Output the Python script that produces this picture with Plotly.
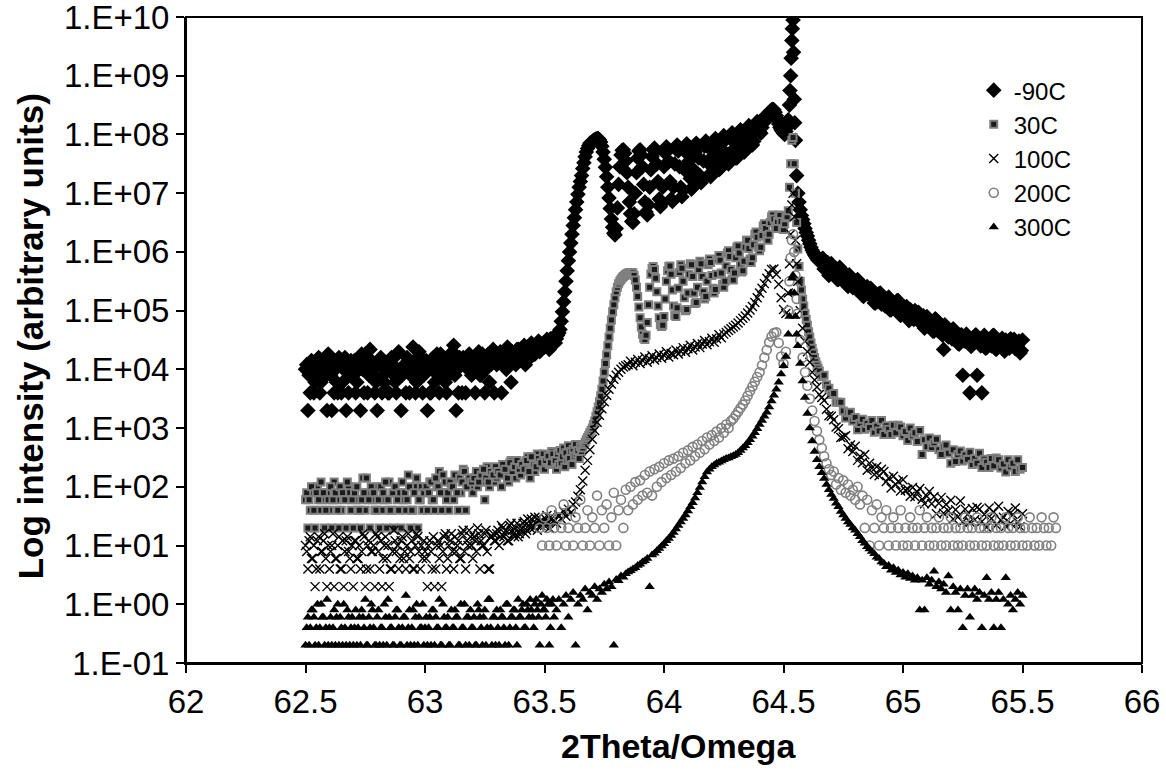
import numpy as np
import plotly.graph_objects as go

# ---------------- data (log10 of intensity) ----------------
series_names = ["-90C", "30C", "100C", "200C", "300C"]

x_tick_vals = [62, 62.5, 63, 63.5, 64, 64.5, 65, 65.5, 66]
x_tick_text = ["62", "62.5", "63", "63.5", "64", "64.5", "65", "65.5", "66"]
y_tick_vals = [1e-1, 1e0, 1e1, 1e2, 1e3, 1e4, 1e5, 1e6, 1e7, 1e8, 1e9, 1e10]
y_tick_text = ["1.E-01", "1.E+00", "1.E+01", "1.E+02", "1.E+03", "1.E+04",
               "1.E+05", "1.E+06", "1.E+07", "1.E+08", "1.E+09", "1.E+10"]

# -90C : 62.50 & 62.505 step 0.01 | 63.545 step 0.005 | 64.66 & 64.665 step 0.01
m90_a = [4.00,3.30,3.60,4.08,3.78,4.00,3.60,3.90,4.15,3.30,
         4.08,3.30,3.60,3.78,4.20,3.60,4.00,3.30,3.60,4.15,
         3.90,3.60,4.08,3.30,4.00,4.26,3.60,4.34,3.90,3.60,
         3.30,4.15,3.60,3.78,4.08,3.60,4.20,3.90,3.60,4.30,
         3.30,4.00,3.60,4.15,3.90,4.38,3.60,4.00,4.20,3.60,
         4.08,3.30,3.60,4.00,3.78,4.26,3.60,4.15,4.00,3.60,
         3.90,4.15,4.41,3.30,3.60,4.08,4.20,3.60,4.00,4.08,
         4.00,3.60,4.15,3.90,4.26,3.60,4.08,3.78,4.20,3.60,
         4.08,4.26,3.60,4.15,4.00,4.30,3.78,4.20,4.08,4.34,
         4.15,4.30,4.08,4.38,4.20,4.34,4.26,4.45,4.30,4.41,
         4.38,4.51,4.34,4.45,4.56]
m90_a2 = [4.08,3.90,4.15,3.60,4.00,4.20,3.78,4.08,3.90,4.26,
          3.90,4.15,4.00,3.60,4.08,3.78,4.20,4.00,3.90,4.08,
          4.15,3.78,4.00,4.26,3.60,4.08,3.90,4.15,4.00,3.78,
          4.08,4.20,3.90,4.00,3.60,4.15,4.08,3.78,4.26,4.00,
          3.90,4.08,4.20,3.60,4.00,4.15,3.78,4.30,4.08,3.90,
          4.15,4.00,3.60,4.20,4.08,3.90,4.26,4.00,3.78,4.15,
          4.08,4.30,3.90,4.00,4.20,3.60,4.15,4.08,4.26,3.90,
          4.20,4.08,4.30,3.90,4.15,4.00,4.26,4.08,4.34,4.15,
          4.20,4.30,4.08,4.26,4.38,4.15,4.30,4.20,4.34,4.26,
          4.30,4.41,4.20,4.34,4.45,4.26,4.38,4.48,4.34,4.45,
          4.41,4.48,4.52,4.50]
m90_b = [4.45,4.52,4.58,4.62,4.68,4.82,4.98,5.15,5.32,5.50,
         5.68,5.85,6.00,6.15,6.30,6.45,6.58,6.72,6.85,6.98,
         7.10,7.20,7.30,7.42,7.52,7.62,7.70,7.76,7.81,7.85,
         7.86,7.88,7.90,7.91,7.92,7.93,7.93,7.91,7.87,7.80,
         7.70,7.58,7.44,7.28,7.10,6.92,6.74,6.56,6.42,6.32,
         6.29,6.40,6.75,7.15,7.45,7.65,7.73,7.74,7.68,7.55,
         7.35,7.10,6.85,6.65,6.52,6.50,6.65,7.00,7.35,7.60,
         7.72,7.74,7.65,7.45,7.15,6.85,6.68,6.63,6.80,7.10,
         7.40,7.62,7.74,7.77,7.72,7.50,7.20,6.90,6.77,6.82,
         7.10,7.45,7.68,7.79,7.75,7.55,7.20,6.90,6.86,7.10,
         7.50,7.75,7.82,7.72,7.45,7.10,6.94,7.05,7.40,7.70,
         7.84,7.78,7.55,7.25,7.07,7.10,7.40,7.70,7.85,7.82,
         7.60,7.30,7.18,7.25,7.55,7.80,7.89,7.80,7.55,7.32,
         7.28,7.45,7.72,7.90,7.93,7.80,7.55,7.40,7.42,7.65,
         7.88,7.98,7.90,7.68,7.52,7.50,7.68,7.92,8.03,7.95,
         7.75,7.60,7.60,7.80,8.00,8.08,8.00,7.82,7.70,7.72,
         7.92,8.10,8.15,8.05,7.90,7.82,7.88,8.05,8.18,8.22,
         8.15,8.05,8.02,8.12,8.25,8.30,8.28,8.25,8.30,8.36,
         8.40,8.42,8.43,8.42,8.38,8.32,8.25,8.18,8.12,8.08,
         8.05,8.02,8.00,8.05,8.12,8.25,8.50,9.00,9.60,9.95,
         8.60,7.90,7.30,7.00,6.85,6.72,6.62,6.55,6.48,6.40,
         6.33,6.27,6.20,6.14,6.08,6.03,5.99,5.95,5.92,5.89,
         5.86,5.84]
m90_c = [5.88,5.71,5.77,5.60,5.80,5.65,5.69,5.53,5.71,5.52,
         5.54,5.41,5.56,5.39,5.47,5.53,5.34,5.26,5.38,5.41,
         5.27,5.33,5.13,5.23,5.29,5.11,5.20,5.12,5.23,5.01,
         5.10,5.01,5.17,4.92,5.05,4.98,4.88,5.02,4.88,5.00,
         4.96,4.80,4.86,4.70,4.90,4.76,4.81,4.65,4.84,4.66,
         4.68,4.34,4.71,4.55,4.63,4.69,4.52,4.44,4.58,3.90,
         4.48,4.56,3.60,4.50,4.57,3.90,4.51,3.60,4.58,4.37,
         4.48,4.40,4.58,4.34,4.49,4.43,4.35,4.50,4.38,4.52,
         4.49,4.35,4.42,4.28,4.50]
m90_c2 = [5.89,5.72,5.82,5.63,5.69,5.71,5.53,5.74,5.53,5.57,
          5.44,5.61,5.46,5.49,5.36,5.50,5.39,5.24,5.39,5.28,
          5.38,5.30,5.13,5.16,5.30,5.20,5.08,5.20,5.01,5.09,
          5.03,5.17,4.94,5.06,4.97,5.07,4.83,4.95,4.85,4.97,
          4.97,4.81,4.91,4.73,4.79,4.82,4.65,4.86,4.66,4.71,
          4.58,4.76,4.61,4.65,4.52,4.66,4.57,4.43,4.59,4.49,
          4.60,4.54,4.39,4.44,4.59,4.50,4.40,4.54,4.36,4.46,
          4.42,4.57,4.36,4.49,4.42,4.53,4.31,4.44,4.36,4.50,
          4.51,4.37,4.48,4.32]
m90_peak_x = [64.527, 64.532, 64.537, 64.542, 64.547]
m90_peak = [8.75, 9.30, 9.80, 9.40, 8.20]

# 30C : 62.50 & 62.505 step 0.01 | 63.545 step 0.005 | 64.66 step 0.01
c30_a = [1.78,1.30,1.60,1.90,1.30,2.00,1.60,1.78,1.30,1.90,
         1.60,1.30,2.08,1.78,1.30,1.60,1.90,1.30,2.00,1.60,
         1.30,1.78,1.60,1.30,2.15,1.60,1.90,1.30,1.78,1.60,
         2.00,1.30,1.60,1.78,1.30,2.08,1.60,1.30,1.90,1.60,
         1.30,1.78,1.60,2.20,1.30,1.60,2.00,1.30,1.78,1.60,
         1.90,1.60,2.08,1.78,1.60,2.00,2.26,1.60,1.90,1.78,
         1.60,2.00,1.78,2.15,1.60,1.90,2.30,1.60,2.08,2.00,
         1.90,2.15,2.00,2.26,2.08,1.78,2.34,2.00,2.20,2.08,
         2.15,2.30,2.00,2.38,2.20,2.08,2.45,2.26,2.15,2.34,
         2.20,2.41,2.30,2.51,2.15,2.38,2.26,2.56,2.34,2.45,
         2.30,2.48,2.38,2.60,2.41]
c30_a2 = [1.90,1.78,2.00,1.60,1.90,1.78,2.08,1.90,1.60,1.78,
          2.00,1.78,1.90,1.60,2.00,1.90,1.78,2.08,1.90,1.78,
          1.90,2.00,1.60,1.78,1.90,2.15,1.78,2.00,1.90,1.60,
          1.78,2.00,1.90,2.08,1.78,1.60,1.90,2.00,1.78,1.90,
          2.08,1.90,1.78,2.00,1.60,1.90,2.15,1.78,2.00,1.90,
          2.00,1.90,2.08,1.78,2.15,2.00,1.90,2.20,2.08,1.90,
          2.08,2.00,2.20,1.90,2.15,2.08,2.26,2.00,2.15,2.08,
          2.15,2.26,2.08,2.20,2.30,2.15,2.08,2.26,2.20,2.34,
          2.26,2.20,2.38,2.30,2.15,2.41,2.26,2.34,2.45,2.30,
          2.38,2.30,2.45,2.26,2.51,2.38,2.34,2.48,2.41,2.56,
          2.45,2.52,2.41,2.56]
c30_b = [2.45,2.30,2.56,2.38,2.62,2.41,2.51,2.66,2.34,2.58,
         2.45,2.70,2.48,2.60,2.38,2.64,2.52,2.72,2.56,2.62,
         2.48,2.68,2.60,2.66,2.72,2.76,2.80,2.84,2.88,2.92,
         2.96,3.00,3.06,3.12,3.20,3.28,3.36,3.45,3.55,3.66,
         3.80,3.95,4.10,4.25,4.40,4.55,4.70,4.84,4.98,5.10,
         5.22,5.32,5.40,5.46,5.50,5.53,5.56,5.58,5.60,5.62,
         5.63,5.64,5.65,5.65,5.65,5.64,5.60,5.52,5.40,5.24,
         5.06,4.88,4.72,4.60,4.53,4.51,4.58,4.80,5.10,5.40,
         5.62,5.72,5.75,5.70,5.55,5.32,5.08,4.88,4.76,4.73,
         4.75,4.90,5.20,5.50,5.68,5.75,5.76,5.62,5.35,5.08,
         4.92,4.90,5.05,5.38,5.65,5.78,5.72,5.50,5.22,5.00,
         5.02,5.30,5.62,5.80,5.78,5.58,5.30,5.12,5.14,5.40,
         5.70,5.84,5.80,5.58,5.32,5.20,5.24,5.50,5.78,5.88,
         5.82,5.60,5.38,5.30,5.36,5.62,5.88,5.94,5.86,5.64,
         5.45,5.40,5.50,5.76,5.98,6.02,5.92,5.70,5.54,5.52,
         5.64,5.90,6.08,6.10,5.98,5.78,5.66,5.68,5.84,6.08,
         6.20,6.20,6.06,5.88,5.82,5.90,6.12,6.30,6.34,6.25,
         6.08,6.02,6.08,6.28,6.44,6.48,6.40,6.25,6.20,6.30,
         6.50,6.60,6.63,6.56,6.42,6.40,6.52,6.63,6.62,6.52,
         6.40,6.38,6.48,6.58,6.60,6.70,7.10,7.50,7.90,7.95,
         7.50,7.00,6.50,6.05,5.75,5.50,5.35,5.20,5.08,4.95,
         4.85,4.75,4.64,4.55,4.45,4.36,4.28,4.20,4.13,4.07,
         4.02,3.97]
c30_c = [3.88,3.90,3.74,3.68,3.57,3.59,3.44,3.44,3.44,3.29,
         3.17,3.26,3.27,3.12,3.18,2.97,3.08,3.15,2.98,3.08,
         3.01,3.13,2.93,3.03,2.95,3.13,2.89,3.04,2.98,2.89,
         3.05,2.92,3.05,3.02,2.87,2.94,2.79,3.00,2.87,2.92,
         2.77,2.96,2.55,2.80,2.68,2.83,2.67,2.75,2.81,2.63,
         2.55,2.68,2.71,2.57,2.40,2.63,2.43,2.55,2.61,2.44,
         2.54,2.47,2.59,2.38,2.48,2.40,2.57,2.33,2.47,2.42,
         2.33,2.48,2.36,2.49,2.46,2.32,2.39,2.25,2.46,2.34,
         2.40,2.26,2.46,2.30,2.33]

# 100C : 62.50 & 62.505 step 0.01 | 63.55 step 0.01
c100_a = [1.00,0.60,1.15,0.78,0.30,1.08,0.60,0.90,1.20,0.30,
          0.60,1.00,0.30,0.78,1.15,0.60,0.30,1.08,0.90,0.60,
          0.30,1.08,0.78,0.60,1.20,0.30,1.00,0.60,0.90,0.30,
          1.15,0.60,0.30,1.00,0.78,0.30,0.60,1.26,0.90,0.60,
          1.08,0.78,0.60,1.20,0.90,0.60,1.00,1.15,0.60,0.78,
          0.90,0.30,1.08,0.60,0.30,1.00,0.78,0.30,1.15,0.60,
          1.00,1.20,0.60,0.90,1.08,0.78,1.26,0.60,1.00,1.15,
          0.78,1.08,1.30,0.60,1.00,1.20,0.90,0.60,1.15,1.08,
          1.20,1.00,1.34,1.15,1.26,1.08,1.38,1.20,1.30,1.15,
          1.26,1.38,1.20,1.45,1.30,1.34,1.48,1.26,1.41,1.38,
          1.34,1.51,1.30,1.45,1.41]
c100_a2 = [0.90,1.08,0.78,1.00,0.60,1.15,0.90,1.08,0.78,1.00,
           0.90,1.20,0.78,1.00,0.60,1.08,0.90,1.15,0.78,1.00,
           1.08,0.78,1.00,0.90,1.15,0.60,1.08,0.90,1.00,1.20,
           0.90,1.08,0.78,1.15,1.00,0.60,0.90,1.08,1.00,0.78,
           1.15,0.90,1.00,0.78,1.08,0.60,1.20,0.90,1.00,1.08,
           0.78,1.00,0.90,1.15,0.60,1.08,1.00,0.90,1.20,0.78,
           1.08,0.90,1.15,1.00,0.78,1.20,0.90,1.08,1.26,1.00,
           1.15,0.90,1.20,1.08,1.00,1.26,0.60,1.15,1.20,1.08,
           1.26,1.15,1.30,1.20,1.08,1.34,1.26,1.15,1.38,1.20,
           1.30,1.41,1.26,1.34,1.45,1.30,1.38,1.48,1.34,1.41,
           1.45,1.38,1.48,1.41]
c100_b = [1.38,1.52,1.45,1.58,1.50,1.62,1.56,1.70,1.74,1.84,
          1.95,2.10,2.28,2.45,2.63,2.81,2.96,3.10,3.22,3.33,
          3.45,3.56,3.66,3.75,3.83,3.90,3.95,4.00,4.04,4.06,
          4.08,4.14,4.06,4.12,4.17,4.10,4.15,4.21,4.12,4.18,
          4.23,4.16,4.20,4.26,4.19,4.24,4.30,4.21,4.27,4.25,
          4.33,4.26,4.31,4.37,4.29,4.35,4.41,4.33,4.38,4.44,
          4.37,4.43,4.49,4.42,4.47,4.53,4.46,4.52,4.59,4.54,
          4.60,4.63,4.66,4.69,4.72,4.75,4.79,4.83,4.87,4.91,
          4.96,5.01,5.07,5.14,5.22,5.30,5.38,5.46,5.55,5.63,
          5.70,5.71,5.62,5.45,5.22,5.02,4.95,5.30,6.30,7.00,
          6.20,5.50,5.00,4.70,4.48,4.30,4.12,3.95,3.82,3.70,
          3.57,3.52,3.47,3.32,3.21,3.20,3.14,3.02,2.99,2.84,
          2.85,2.87,2.65,2.71,2.60,2.69,2.45,2.52,2.41,2.55,
          2.28,2.40,2.32,2.21,2.34,2.19,2.30,2.26,2.09,2.15,
          1.98,2.18,2.04,2.09,1.93,2.12,1.94,1.96,1.84,1.99,
          1.83,1.91,1.97,1.79,1.71,1.84,1.92,1.71,1.83,1.54,
          1.72,1.82,1.55,1.70,1.59,1.77,1.45,1.61,1.49,1.76,
          1.40,1.62,1.53,1.40,1.63,1.44,1.65,1.62,1.41,1.53,
          1.31,1.64,1.46,1.57,1.35,1.67,1.43,1.48,1.33,1.58,
          1.38,1.53,1.64,1.40,1.32,1.54]
c100_peak_x = [64.525, 64.535, 64.545, 64.555]
c100_peak = [5.80, 6.80, 6.60, 5.80]

# 200C : 63.48 step 0.01
c200 = [1.30,1.00,1.48,1.30,1.00,1.60,1.30,1.00,1.48,1.30,
        1.70,1.00,1.30,1.60,1.00,1.48,1.30,1.78,1.00,1.30,
        1.60,1.00,1.48,1.30,1.85,1.00,1.60,1.30,1.70,1.00,
        1.48,1.90,1.00,1.60,1.78,1.30,1.95,1.60,2.00,1.70,
        2.08,1.78,2.11,1.85,2.20,1.90,2.26,1.85,2.30,2.00,
        2.34,2.08,2.40,2.15,2.45,2.20,2.48,2.26,2.52,2.32,
        2.58,2.40,2.62,2.45,2.68,2.52,2.72,2.58,2.78,2.64,
        2.84,2.72,2.88,2.78,2.94,2.84,3.00,2.92,3.06,3.00,
        3.12,3.16,3.22,3.28,3.34,3.40,3.47,3.55,3.63,3.71,
        3.79,3.87,3.95,4.07,4.20,4.33,4.46,4.56,4.62,4.63,
        4.45,4.22,4.10,4.30,5.00,5.90,6.30,5.60,4.95,4.50,
        4.20,3.95,3.72,3.50,3.30,3.12,2.95,2.80,2.66,2.52,
        2.40,2.30,2.20,2.26,2.04,2.15,1.95,2.11,1.90,2.04,
        1.85,1.95,1.78,2.00,1.70,1.85,1.30,1.78,1.00,1.60,
        1.30,1.70,1.00,1.48,1.30,1.60,1.00,1.30,1.48,1.00,
        1.30,1.60,1.00,1.30,1.00,1.48,1.30,1.00,1.30,1.60,
        1.00,1.30,1.48,1.00,1.30,1.00,1.30,1.48,1.00,1.30,
        1.00,1.30,1.48,1.00,1.30,1.00,1.30,1.00,1.48,1.30,
        1.00,1.30,1.00,1.48,1.30,1.00,1.30,1.00,1.30,1.48,
        1.00,1.30,1.00,1.30,1.00,1.48,1.30,1.00,1.30,1.00,
        1.48,1.30,1.00,1.30,1.00,1.48,1.30,1.00,1.30,1.00,
        1.48,1.30,1.00,1.30,1.00,1.48,1.30]
c200_peak_x = [64.525, 64.535, 64.545, 64.555]
c200_peak = [5.50, 6.20, 6.00, 5.20]

# 300C : 62.50 & 62.505 step 0.01 | 63.55 step 0.01
c300_a = [-0.70,-0.22,-0.40,-0.10,-0.70,0.00,-0.40,-0.22,-0.70,0.08,
          -0.40,-0.70,-0.10,-0.22,-0.70,-0.40,0.00,-0.70,-0.22,-0.40,
          -0.70,-0.10,-0.40,-0.70,-0.22,0.08,-0.70,-0.40,-0.10,-0.70,
          -0.22,-0.70,-0.40,0.00,-0.70,-0.22,-0.40,-0.70,-0.10,-0.40,
          -0.70,-0.22,0.15,-0.40,-0.70,-0.10,-0.22,-0.70,-0.40,0.00,
          -0.40,-0.70,-0.22,-0.10,-0.70,-0.40,0.08,-0.70,-0.22,-0.40,
          -0.70,-0.10,-0.40,-0.22,-0.70,0.00,-0.40,-0.70,-0.22,-0.10,
          -0.40,-0.70,0.00,-0.22,-0.70,-0.10,-0.40,0.08,-0.70,-0.22,
          -0.10,-0.70,-0.22,-0.40,0.00,-0.70,-0.22,-0.10,-0.40,0.08,
          -0.22,0.00,-0.40,-0.10,0.08,-0.22,0.00,-0.10,-0.70,0.15,
          -0.10,0.08,-0.70,0.00,-0.22]
c300_a2 = [-0.40,-0.70,-0.10,-0.22,-0.40,-0.70,0.00,-0.22,-0.40,-0.70,
           -0.22,-0.40,-0.70,0.00,-0.22,-0.70,-0.40,-0.10,-0.70,-0.22,
           -0.40,-0.70,-0.22,-0.10,-0.40,-0.70,-0.22,0.00,-0.40,-0.70,
           -0.10,-0.40,-0.70,-0.22,0.08,-0.40,-0.70,-0.22,-0.10,-0.70,
           -0.40,-0.22,-0.70,-0.10,-0.40,-0.70,0.00,-0.22,-0.40,-0.70,
           -0.22,-0.40,-0.70,-0.10,-0.22,-0.40,-0.70,0.00,-0.40,-0.22,
           -0.70,-0.40,-0.10,-0.22,-0.70,-0.40,0.00,-0.22,-0.70,-0.40,
           -0.22,-0.70,-0.10,-0.40,-0.22,-0.70,0.08,-0.40,-0.22,-0.70,
           -0.40,-0.10,-0.22,-0.70,0.00,-0.40,-0.22,-0.10,-0.70,-0.22,
           -0.10,-0.40,0.00,-0.22,-0.10,-0.40,0.08,-0.22,0.00,-0.10,
           -0.22,0.00,-0.40,0.08]
c300_b = [-0.10,0.08,-0.40,0.00,0.15,-0.22,0.08,0.20,-0.70,0.00,
          0.15,0.08,0.26,-0.10,0.20,0.15,0.30,0.08,0.26,0.20,
          0.34,0.26,0.38,0.30,-0.70,0.42,0.40,0.48,0.46,0.52,
          0.55,0.57,0.60,0.62,0.66,0.68,0.72,0.74,0.78,0.30,
          0.84,0.87,0.91,0.95,0.99,1.03,1.08,1.12,1.17,1.22,
          1.28,1.34,1.40,1.46,1.52,1.59,1.66,1.73,1.81,1.90,
          1.99,2.08,2.17,2.25,2.30,2.34,2.37,2.40,2.42,2.44,
          2.46,2.48,2.49,2.51,2.53,2.55,2.58,2.62,2.66,2.70,
          2.75,2.80,2.86,2.92,2.99,3.06,3.13,3.20,3.27,3.36,
          3.46,3.56,3.66,3.78,3.92,4.06,4.22,4.60,5.30,5.60,
          4.90,4.40,4.10,3.80,3.52,3.25,3.00,2.78,2.60,2.46,
          2.34,2.24,2.14,2.04,1.95,1.87,1.80,1.72,1.66,1.58,
          1.52,1.46,1.40,1.36,1.30,1.26,1.20,1.15,1.08,1.04,
          0.98,0.94,0.90,0.86,0.80,0.78,0.72,0.70,0.64,0.66,
          0.58,0.62,0.54,0.58,0.50,0.54,0.46,0.52,0.44,0.48,
          0.41,0.45,-0.10,0.41,-0.10,0.45,0.34,0.41,0.56,0.30,
          0.38,0.26,0.34,0.20,0.48,-0.10,0.30,0.20,-0.10,0.26,
          -0.40,0.15,0.26,-0.22,0.15,0.26,0.08,0.20,-0.40,0.15,
          0.45,0.08,0.20,-0.40,0.08,0.20,-0.40,0.08,0.45,0.00,
          0.15,-0.10,0.08,0.20,0.00,0.15]
c300_peak_x = [64.525, 64.535, 64.545, 64.555]
c300_peak = [4.90, 5.55, 5.30, 4.60]


# ---------------- assemble ----------------
def build(parts, extra_x=(), extra_logs=()):
    xs, ys = [], []
    for start, step, logs in parts:
        xs.append(start + step * np.arange(len(logs)))
        ys.append(np.power(10.0, np.asarray(logs, dtype=float)))
    xs.append(np.asarray(extra_x, dtype=float))
    ys.append(np.power(10.0, np.asarray(extra_logs, dtype=float)))
    return np.concatenate(xs), np.concatenate(ys)


data = {
    "-90C": build([(62.50, 0.01, m90_a), (62.505, 0.01, m90_a2), (63.545, 0.005, m90_b),
                   (64.66, 0.01, m90_c), (64.665, 0.01, m90_c2)],
                  m90_peak_x, m90_peak),
    "30C": build([(62.50, 0.01, c30_a), (62.505, 0.01, c30_a2), (63.545, 0.005, c30_b),
                  (64.66, 0.01, c30_c)]),
    "100C": build([(62.50, 0.01, c100_a), (62.505, 0.01, c100_a2), (63.55, 0.01, c100_b)],
                  c100_peak_x, c100_peak),
    "200C": build([(63.48, 0.01, c200)], c200_peak_x, c200_peak),
    "300C": build([(62.50, 0.01, c300_a), (62.505, 0.01, c300_a2), (63.55, 0.01, c300_b)],
                  c300_peak_x, c300_peak),
}

markers = {
    "-90C": dict(symbol="diamond", size=12, color="black", line=dict(width=0)),
    "30C": dict(symbol="square", size=7, color="#1a1a1a", line=dict(color="#808080", width=2)),
    "100C": dict(symbol="x-thin-open", size=9, color="black", line=dict(color="black", width=1.4)),
    "200C": dict(symbol="circle-open", size=9, color="#808080", line=dict(color="#808080", width=1.6)),
    "300C": dict(symbol="triangle-up", size=9, color="black", line=dict(width=0)),
}

fig = go.Figure()
for name in series_names:
    x, y = data[name]
    fig.add_trace(go.Scatter(x=x, y=y, mode="markers", name=name,
                             marker=markers[name], cliponaxis=True))

FONT = "Liberation Sans, Arial, Helvetica, sans-serif"

fig.update_layout(
    width=1166, height=773,
    margin=dict(l=186, r=24, t=17, b=110, pad=0),
    paper_bgcolor="white", plot_bgcolor="white",
    font=dict(family=FONT, color="black"),
    showlegend=True,
    legend=dict(x=0.824, y=0.921, xanchor="left", yanchor="top",
                font=dict(size=24, family=FONT, color="black"),
                bgcolor="rgba(0,0,0,0)", borderwidth=0, tracegroupgap=0),
    xaxis=dict(range=[62, 66], tickmode="array", tickvals=x_tick_vals, ticktext=x_tick_text,
               ticks="outside", ticklen=8, tickwidth=1.5, tickcolor="black",
               tickfont=dict(size=33, family=FONT, color="black"),
               ticklabeloverflow="allow",
               showline=True, linecolor="black", linewidth=2,
               showgrid=False, zeroline=False, automargin=False),
    yaxis=dict(type="log", range=[-1.0005, 10.0005], tickmode="array", tickvals=y_tick_vals,
               ticktext=y_tick_text, ticks="outside", ticklen=8, tickwidth=1.5,
               tickcolor="black", tickfont=dict(size=33, family=FONT, color="black"),
               ticklabeloverflow="allow",
               showline=True, linecolor="black", linewidth=2,
               showgrid=False, zeroline=False, automargin=False),
    shapes=[dict(type="rect", xref="paper", yref="paper", x0=0, x1=1, y0=0, y1=1,
                 line=dict(color="black", width=2), fillcolor="rgba(0,0,0,0)", layer="above")],
    annotations=[
        dict(text="<b>Log intensity (arbitrary units)</b>", xref="paper", yref="paper",
             x=-0.163, y=0.506, xanchor="center", yanchor="middle", textangle=-90,
             showarrow=False, font=dict(size=35, family=FONT, color="black")),
        dict(text="<b>2Theta/Omega</b>", xref="paper", yref="paper",
             x=0.515, y=-0.1285, xanchor="center", yanchor="middle",
             showarrow=False, font=dict(size=34, family=FONT, color="black")),
    ],
)

# remove the browser's default 8 px body margin so the 1166x773 figure fills the window
fig.write_html("out.html", config={"displayModeBar": False},
               post_script="document.body.style.margin='0';")
